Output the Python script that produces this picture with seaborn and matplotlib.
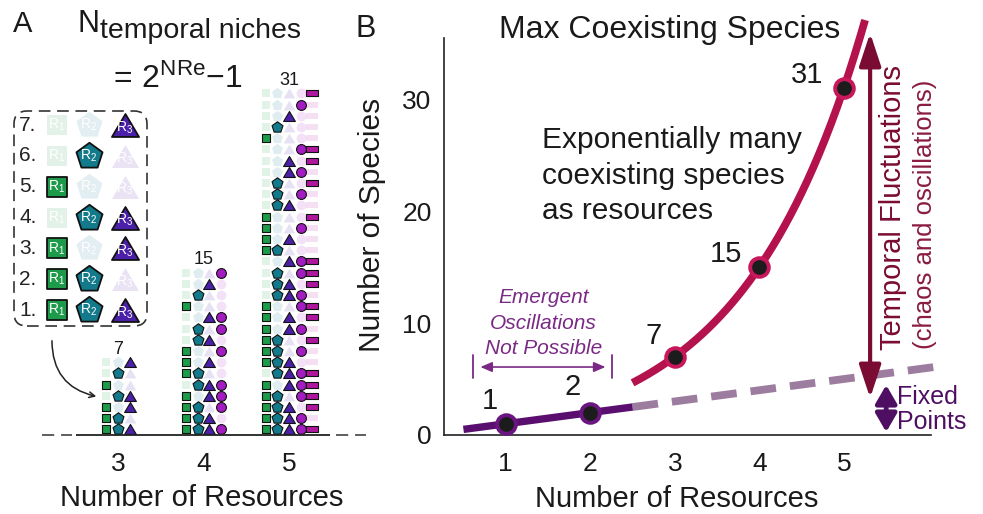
import numpy as np
import pandas as pd
import matplotlib
matplotlib.use("Agg")
import matplotlib.pyplot as plt
import seaborn as sns
from matplotlib.path import Path
from matplotlib.patches import FancyBboxPatch, FancyArrowPatch

# ---------------- data ----------------
resources_a = [3, 4, 5]
niche_counts = [7, 15, 31]
# which resources each temporal niche uses (rows listed bottom -> top)
subsets_3 = ["123", "12", "13", "23", "1", "2", "3"]
subsets_4 = ["1234", "123", "124", "134", "234", "12", "13", "14", "23", "24", "34",
             "1", "2", "3", "4"]
subsets_5 = ["12345", "1234", "1235", "1245", "1345", "2345",
             "123", "124", "125", "134", "135", "145", "234", "235", "245", "345",
             "12", "13", "14", "15", "23", "24", "25", "34", "35", "45",
             "1", "2", "3", "4", "5"]
legend_numbers = ["1.", "2.", "3.", "4.", "5.", "6.", "7."]
resource_labels = [r"$\mathrm{R}_{1}$", r"$\mathrm{R}_{2}$", r"$\mathrm{R}_{3}$"]

resources_b = [1, 2, 3, 4, 5]
max_species = [1, 2, 7, 15, 31]
xticks_b = [1, 2, 3, 4, 5]
yticks_b = [0, 10, 20, 30]
fixed_solid_range = [0.5, 2.5]     # fixed points: species = resources
fixed_dash_range = [2.5, 6.2]
temporal_curve_range = [2.5, 5.25]  # N = 2^R - 1 (formula stated in panel A)

# ---------------- style ----------------
sns.set_theme(style="white")
plt.rcParams["font.family"] = ["Liberation Sans", "DejaVu Sans"]
plt.rcParams["mathtext.fontset"] = "custom"
plt.rcParams["mathtext.rm"] = "Liberation Sans"
plt.rcParams["mathtext.it"] = "Liberation Sans:italic"
plt.rcParams["mathtext.bf"] = "Liberation Sans:bold"

W, H = 983, 514
fig = plt.figure(figsize=(W / 100, H / 100), dpi=100)


def fx(px):
    return px / W


def fy(py):
    return 1 - py / H


res_colors = ["#1E9B4A", "#137A8C", "#4A20A8", "#A21CC2", "#B0179F"]
tri_path = Path([(0, 0.72), (-0.85, -0.72), (0.85, -0.72), (0, 0.72)], closed=True)
rect_path = Path([(-1, -0.6), (1, -0.6), (1, 0.6), (-1, 0.6), (-1, -0.6)], closed=True)
res_markers = ["s", "p", tri_path, "o", rect_path]
res_sizes = [40, 68, 72, 50, 68]

red = "#B3124C"
red_edge = "#C8175A"
purple = "#5A0E6E"
purple_edge = "#6A1580"
dash_col = "#9C7D9F"
temporal_col = "#7A0B33"
chaos_col = "#8A1C40"
fixed_col = "#4E0F62"
emergent_col = "#7A2A85"
ink = "#1a1a1a"

# ---------------- panel A ----------------
ppu = 85.5  # px per resource unit
axA = fig.add_axes([0, fy(435), 350 / W, (435 - 38) / H])
axA.set_xlim(3 - 118 / ppu, 3 + 232 / ppu)
axA.set_ylim(0, 35.45)
axA.patch.set_visible(False)
for s in axA.spines.values():
    s.set_visible(False)
axA.set_yticks([])
axA.set_xticks(resources_a)
axA.set_xticklabels([str(r) for r in resources_a])
axA.tick_params(axis="x", length=0, labelsize=19, pad=12, colors=ink)

rows = []
for n, subs in zip(resources_a, [subsets_3, subsets_4, subsets_5]):
    for i, sub in enumerate(subs):
        for r in range(1, n + 1):
            rows.append({"N": n, "row": i, "res": r, "present": str(r) in sub})
dfA = pd.DataFrame(rows)
dfA["x"] = dfA["N"] + (dfA["res"] - (dfA["N"] + 1) / 2) * 0.136
dfA["y"] = dfA["row"] + 0.5

for r in range(1, 6):
    for present in [False, True]:
        sub = dfA[(dfA.res == r) & (dfA.present == present)]
        if sub.empty:
            continue
        if present:
            sns.scatterplot(data=sub, x="x", y="y", ax=axA, marker=res_markers[r - 1],
                            s=res_sizes[r - 1], color=res_colors[r - 1], edgecolor="#111111",
                            linewidth=0.8, legend=False, zorder=4, clip_on=False)
        else:
            sns.scatterplot(data=sub, x="x", y="y", ax=axA, marker=res_markers[r - 1],
                            s=res_sizes[r - 1], color=res_colors[r - 1], alpha=0.13,
                            linewidth=0, legend=False, zorder=3, clip_on=False)
axA.set_xlabel("")
axA.set_ylabel("")

for n, c in zip(resources_a, niche_counts):
    axA.text(n, c + 0.65, str(c), ha="center", va="center", fontsize=13, color=ink)

# baseline: dashed ends with a solid axis segment in the middle
xa = lambda px: 3 + (px - 118) / ppu
axA.plot([xa(42), xa(72)], [0, 0], color="#333333", lw=1.1, ls=(0, (8, 4.5)),
         clip_on=False, zorder=2)
axA.plot([xa(336), xa(366)], [0, 0], color="#333333", lw=1.1, ls=(0, (8, 4.5)),
         clip_on=False, zorder=2)
axA.plot([xa(76), xa(330)], [0, 0], color="#222222", lw=1.3, solid_capstyle="butt",
         clip_on=False, zorder=6)

# legend box (the 3-resource niches)
axL = fig.add_axes([fx(13), fy(327), 135 / W, 217 / H])
axL.set_xlim(0, 135)
axL.set_ylim(0, 217)
axL.axis("off")
axL.patch.set_visible(False)
box = FancyBboxPatch((1, 1), 133, 215, boxstyle="round,pad=0,rounding_size=13",
                     fill=False, ec="#333333", lw=1.2, ls=(0, (7, 4)))
axL.add_patch(box)
leg_x = [44, 76, 112]
leg_s = [220, 390, 380]
leg_rows = []
for k, sub in enumerate(subsets_3):
    for r in range(1, 4):
        leg_rows.append({"row": k, "res": r, "present": str(r) in sub})
dfL = pd.DataFrame(leg_rows)
dfL["x"] = [leg_x[r - 1] for r in dfL.res]
dfL["y"] = 17 + dfL["row"] * 30.8
for r in range(1, 4):
    for present in [False, True]:
        sub = dfL[(dfL.res == r) & (dfL.present == present)]
        if present:
            sns.scatterplot(data=sub, x="x", y="y", ax=axL, marker=res_markers[r - 1],
                            s=leg_s[r - 1], color=res_colors[r - 1], edgecolor="#111111",
                            linewidth=1.3, joinstyle="round", legend=False, zorder=4)
        else:
            sns.scatterplot(data=sub, x="x", y="y", ax=axL, marker=res_markers[r - 1],
                            s=leg_s[r - 1], color=res_colors[r - 1], alpha=0.12,
                            linewidth=0, legend=False, zorder=3)
for _, rw in dfL.iterrows():
    dy = -2.5 if rw.res == 3 else 0
    axL.text(rw.x, rw.y + dy, resource_labels[rw.res - 1], ha="center", va="center",
             fontsize=10, color="white", zorder=6)
for k, lab in enumerate(legend_numbers):
    axL.text(6, 17 + k * 30.8, lab, ha="left", va="center", fontsize=15, color="#222222")
axL.set_xlabel("")
axL.set_ylabel("")

arr = FancyArrowPatch(posA=(fx(52), fy(338)), posB=(fx(99), fy(397)),
                      transform=fig.transFigure, connectionstyle="arc3,rad=0.42",
                      arrowstyle="->", mutation_scale=10, lw=1.1, color="#222222")
fig.add_artist(arr)

# titles panel A
fig.text(fx(13), fy(32), "A", fontsize=21, va="baseline", ha="left", color=ink)
fig.text(fx(78), fy(32), "N", fontsize=22, va="baseline", ha="left", color=ink)
fig.text(fx(100), fy(38), "temporal niches", fontsize=20.5, va="baseline", ha="left", color=ink)
fig.text(fx(108), fy(88), r"$=\,2^{\mathrm{NRe}}{-}1$", fontsize=23, va="baseline",
         ha="left", color=ink)
fig.text(fx(202), fy(498), "Number of Resources", fontsize=21, ha="center", va="center",
         color=ink)

# ---------------- panel B ----------------
axB = fig.add_axes([fx(444), fy(435), (931 - 444) / W, (435 - 38) / H])
axB.patch.set_visible(False)

xs = np.array(fixed_solid_range)
sns.lineplot(x=xs, y=xs, ax=axB, color=purple, lw=5.3, solid_capstyle="butt", zorder=3)
xd = np.array(fixed_dash_range)
sns.lineplot(x=xd, y=xd, ax=axB, color=dash_col, lw=5.6, linestyle=(0, (3.3, 1.8)),
             dash_capstyle="butt", clip_on=False, zorder=2)
xc = np.linspace(temporal_curve_range[0], temporal_curve_range[1], 200)
sns.lineplot(x=xc, y=2 ** xc - 1, ax=axB, color=red, lw=5.6, solid_capstyle="butt",
             clip_on=False, zorder=3)

dfB = pd.DataFrame({"R": resources_b, "S": max_species})
low = dfB[dfB.R <= 2]
high = dfB[dfB.R >= 3]
sns.scatterplot(data=low, x="R", y="S", ax=axB, s=180, color="#1c1c1c",
                edgecolor=purple_edge, linewidth=2.8, legend=False, zorder=5)
sns.scatterplot(data=high, x="R", y="S", ax=axB, s=180, color="#1c1c1c",
                edgecolor=red_edge, linewidth=2.8, legend=False, zorder=5)

offsets = {1: (-16, 23), 2: (-18, 26), 7: (-21, 21), 15: (-33, 13), 31: (-37, 13)}
for r, s in zip(resources_b, max_species):
    axB.annotate(str(s), (r, s), xytext=offsets[s], textcoords="offset pixels",
                 ha="center", va="center", fontsize=21, color=ink, zorder=6)

axB.set_xlim(0.27, 6.03)
axB.set_ylim(0, 35.45)
axB.set_xticks(xticks_b)
axB.set_yticks(yticks_b)
axB.set_xlabel("")
axB.set_ylabel("")
for side in ["top", "right"]:
    axB.spines[side].set_visible(False)
for side in ["left", "bottom"]:
    axB.spines[side].set_color("#222222")
    axB.spines[side].set_linewidth(1.2)
axB.tick_params(direction="in", length=5, width=1.1, labelsize=19, colors=ink)
axB.tick_params(axis="y", pad=9)
axB.tick_params(axis="x", pad=12)

# emergent oscillations annotation
for txt, yy in zip(["Emergent", "Oscillations", "Not Possible"], [12.3, 10.0, 7.75]):
    axB.text(1.45, yy, txt, style="italic", fontsize=15, ha="center", va="center",
             color=emergent_col)
axB.annotate("", xy=(2.18, 6.07), xytext=(0.70, 6.07),
             arrowprops=dict(arrowstyle="<|-|>,head_length=0.7,head_width=0.3",
                             color=emergent_col, lw=1.2, mutation_scale=10,
                             shrinkA=0, shrinkB=0))
axB.plot([0.61, 0.61], [5.05, 7.1], color=emergent_col, lw=1.3)
axB.plot([2.26, 2.26], [5.05, 7.1], color=emergent_col, lw=1.3)

# temporal fluctuation arrow
axB.annotate("", xy=(5.31, 3.3), xytext=(5.31, 35.9), annotation_clip=False,
             arrowprops=dict(arrowstyle="<|-|>,head_length=1.0,head_width=0.33",
                             color=temporal_col, lw=3, mutation_scale=20,
                             shrinkA=0, shrinkB=0))
axB.annotate("", xy=(5.50, 0.27), xytext=(5.50, 4.46), annotation_clip=False,
             arrowprops=dict(arrowstyle="<|-|>,head_length=0.55,head_width=0.32",
                             color=fixed_col, lw=3.5, mutation_scale=20,
                             shrinkA=0, shrinkB=0))

fig.text(fx(366), fy(29), "B", fontsize=22, ha="center", va="center", color=ink)
fig.text(fx(670), fy(30), "Max Coexisting Species", fontsize=23, ha="center",
         va="center", color=ink)
for txt, py in zip(["Exponentially many", "coexisting species", "as resources"],
                   [140, 176, 211]):
    fig.text(fx(542), fy(py), txt, fontsize=21.5, ha="left", va="center", color=ink)
fig.text(fx(372), fy(225), "Number of Species", fontsize=21.5, rotation=90,
         ha="center", va="center", color=ink)
fig.text(fx(677), fy(499), "Number of Resources", fontsize=21, ha="center", va="center",
         color=ink)
fig.text(fx(893), fy(208), "Temporal Fluctuations", fontsize=21, rotation=90,
         ha="center", va="center", color=temporal_col)
fig.text(fx(925), fy(214), "(chaos and oscillations)", fontsize=18.5, rotation=90,
         ha="center", va="center", color=chaos_col)
fig.text(fx(897), fy(397), "Fixed", fontsize=18, ha="left", va="center", color=fixed_col)
fig.text(fx(897), fy(422), "Points", fontsize=18, ha="left", va="center", color=fixed_col)

fig.savefig("out.png", dpi=100)
